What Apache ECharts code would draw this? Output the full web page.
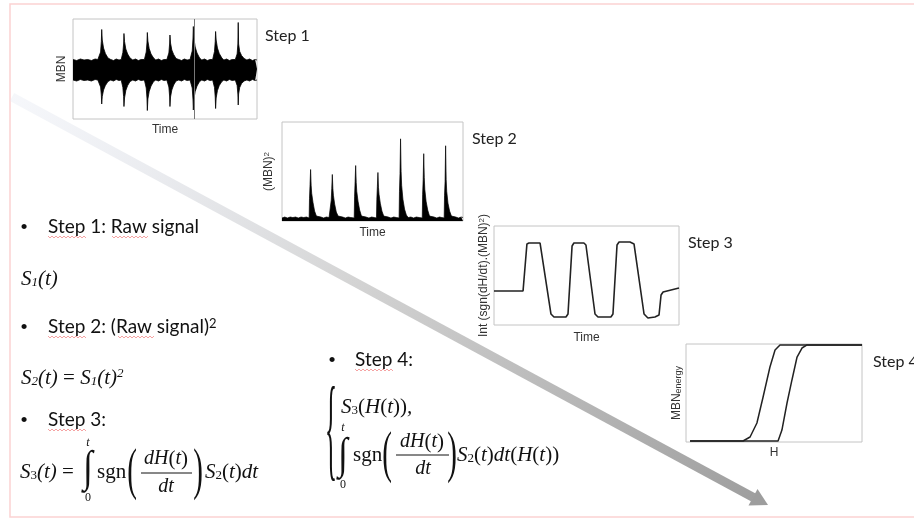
<!DOCTYPE html>
<html><head><meta charset="utf-8">
<script src="https://cdn.jsdelivr.net/npm/echarts@6/dist/echarts.min.js"></script>
<style>html,body{margin:0;padding:0;background:#fff}#c{width:914px;height:519px}</style>
</head><body><div id="c"></div><script>
// ---------- data ----------
const stepTitles = ['Step 1', 'Step 2', 'Step 3', 'Step 4'];
const xNames = ['Time', 'Time', 'Time', 'H'];
const yNames = ['MBN', '(MBN){sup|2}', 'Int (sgn(dH/dt).(MBN){sup|2})', 'MBN{sub|energy}'];

// Step 1: raw MBN signal envelope (upper / lower), time 0..100
const step1Upper = [[0,0.19],[2,0.17],[4,0.2],[6,0.18],[8,0.19],[10,0.17],[12,0.2],[13.5,0.19],
 [14.2,0.21],[15.0,0.34],[15.4,0.55],[15.6,0.79],[15.9,0.58],[16.6,0.42],[17.6,0.31],[19,0.22],
 [20.5,0.19],[22,0.17],[23.5,0.2],[25,0.18],[26.2,0.19],
 [26.4,0.21],[27.1,0.33],[27.5,0.5],[27.7,0.71],[28.0,0.55],[28.7,0.4],[29.7,0.3],[31,0.22],
 [32.5,0.18],[34,0.2],[35.5,0.17],[37,0.19],[38.8,0.19],
 [39.1,0.21],[39.8,0.34],[40.2,0.52],[40.4,0.73],[40.7,0.56],[41.4,0.41],[42.4,0.3],[43.8,0.22],
 [45,0.18],[46.5,0.2],[48,0.17],[49.5,0.19],[51,0.19],
 [51.4,0.21],[52.1,0.32],[52.5,0.5],[52.7,0.68],[53.0,0.52],[53.7,0.38],[54.7,0.29],[56,0.21],
 [57.5,0.19],[59,0.17],[60.5,0.2],[62,0.18],[63.6,0.19],
 [64.1,0.22],[64.8,0.36],[65.2,0.6],[65.4,0.85],[65.7,0.62],[66.4,0.44],[67.4,0.32],[68.8,0.22],
 [70,0.18],[71.5,0.2],[73,0.17],[74.5,0.19],[75.9,0.19],
 [76.2,0.21],[76.9,0.35],[77.3,0.55],[77.5,0.75],[77.8,0.58],[78.5,0.42],[79.5,0.31],[80.9,0.22],
 [82,0.18],[83.5,0.2],[85,0.17],[86.5,0.19],[88.2,0.19],
 [88.5,0.21],[89.2,0.3],[89.6,0.5],[89.8,0.93],[90.0,0.5],[90.6,0.35],[91.6,0.27],[93,0.21],
 [94.5,0.18],[96,0.2],[97.5,0.17],[99,0.19],[100,0.18]];
const step1Lower = [[0,-0.22],[2,-0.24],[4,-0.21],[6,-0.23],[8,-0.22],[10,-0.24],[12,-0.21],[13.5,-0.22],
 [14.2,-0.24],[15.0,-0.36],[15.4,-0.52],[15.6,-0.70],[15.9,-0.55],[16.6,-0.42],[17.6,-0.33],[19,-0.25],
 [20.5,-0.22],[22,-0.24],[23.5,-0.21],[25,-0.23],[26.2,-0.22],
 [26.4,-0.24],[27.1,-0.37],[27.5,-0.55],[27.7,-0.75],[28.0,-0.58],[28.7,-0.43],[29.7,-0.33],[31,-0.25],
 [32.5,-0.22],[34,-0.24],[35.5,-0.21],[37,-0.23],[38.8,-0.22],
 [39.1,-0.25],[39.8,-0.38],[40.2,-0.58],[40.4,-0.83],[40.7,-0.6],[41.4,-0.45],[42.4,-0.34],[43.8,-0.25],
 [45,-0.22],[46.5,-0.24],[48,-0.21],[49.5,-0.23],[51,-0.22],
 [51.4,-0.24],[52.1,-0.36],[52.5,-0.54],[52.7,-0.75],[53.0,-0.56],[53.7,-0.42],[54.7,-0.32],[56,-0.24],
 [57.5,-0.22],[59,-0.24],[60.5,-0.21],[62,-0.23],[63.6,-0.22],
 [64.1,-0.25],[64.8,-0.38],[65.2,-0.6],[65.4,-0.82],[65.7,-0.6],[66.4,-0.45],[67.4,-0.34],[68.8,-0.25],
 [70,-0.22],[71.5,-0.24],[73,-0.21],[74.5,-0.23],[75.9,-0.22],
 [76.2,-0.24],[76.9,-0.37],[77.3,-0.56],[77.5,-0.79],[77.8,-0.58],[78.5,-0.43],[79.5,-0.33],[80.9,-0.25],
 [82,-0.22],[83.5,-0.24],[85,-0.21],[86.5,-0.23],[88.2,-0.22],
 [88.5,-0.24],[89.2,-0.33],[89.6,-0.5],[89.8,-0.72],[90.0,-0.5],[90.6,-0.37],[91.6,-0.29],[93,-0.24],
 [94.5,-0.22],[96,-0.24],[97.5,-0.21],[99,-0.23],[100,-0.22]];
const step1Marker = [65.8];

// Step 2: squared signal
const step2Signal = [[0,3],[1.5,4],[3,3],[4.5,4],[6,3.5],[7.5,4],[9,3],[10.5,4],[12,3.5],[13.5,4],
 [15.0,3],[15.2,23],[15.5,37],[15.8,52],[16.1,36],[16.4,28],[17.1,19],[18.0,10],[19.0,5],[20.0,3.5],
 [21.5,4],[23,3],[24.5,4],[26,3.5],
 [27.0,3],[27.2,21],[27.5,33],[27.8,47],[28.1,33],[28.4,26],[29.1,17],[30.0,9],[31.0,5],[32.0,3.5],
 [33.5,4],[35,3],[36.5,4],[38,3.5],
 [39.9,3],[40.1,25],[40.4,40],[40.7,56],[41.0,39],[41.3,30],[42.0,20],[42.9,11],[43.9,5],[44.9,3.5],
 [46.4,4],[48,3],[49.5,4],[51,3.5],
 [52.2,3],[52.4,22],[52.7,35],[53.0,49],[53.3,34],[53.6,27],[54.3,18],[55.2,10],[56.2,5],[57.2,3.5],
 [58.7,4],[60.2,3],[61.7,4],[63.2,3.5],
 [64.7,3],[64.9,30],[65.2,48],[65.5,83],[65.8,50],[66.1,36],[66.8,22],[67.7,12],[68.7,6],[69.7,3.5],
 [71.2,4],[72.7,3],[74.2,4],[75.8,3.5],
 [77.5,3],[77.7,27],[78.0,42],[78.3,68],[78.6,44],[78.9,32],[79.6,20],[80.5,11],[81.5,5],[82.5,3.5],
 [84,4],[85.5,3],[87,4],[88.3,3.5],
 [89.6,3],[89.8,26],[90.1,40],[90.4,76],[90.7,42],[91.0,30],[91.7,18],[92.6,10],[93.6,5],[94.6,3.5],
 [96,4],[97.5,3],[99,4],[100,3.5]];

// Step 3: integrated signal
const step3Curve = [[0,34.3],[15.7,34.3],[17.8,81.8],[18.9,82.8],[24.9,82.8],[25.9,80.8],[30.8,11.1],[32.4,8.1],
 [38.9,8.1],[40,11.1],[42.2,79.8],[43.2,82.8],[48.6,82.8],[49.7,80.8],[54.6,11.1],[56.2,8.1],[63.2,8.1],
 [64.3,11.1],[66.5,80.8],[67.6,83.8],[73.5,83.8],[75.7,81.8],[81.1,11.1],[83.2,7.1],[87,8.1],[89.2,10.1],
 [90.3,30.3],[91.4,33.3],[100,37.4]];

// Step 4: MBN energy vs H (two branches)
const step4Left = [[2.3,1],[32.4,1],[36.4,5.1],[40.3,19.4],[43.8,45.9],[47.7,76.5],[50.6,93.9],[53.4,99],[100,99]];
const step4Right = [[2.3,1],[52.3,1],[54.5,12.2],[57.4,39.8],[60.2,63.3],[63.1,86.7],[65.9,95.9],[68.8,99],[100,99]];

// ---------- layout ----------
const grids = [
  {left:73, top:19, width:184, height:100},
  {left:282, top:122, width:181, height:99},
  {left:494, top:226, width:185, height:99},
  {left:686, top:344, width:176, height:98}
];
const yRanges = [[-1,1],[0,100],[0,100],[0,100]];
const xGaps = [5, 6, 7, 5];
const yGaps = [5, 7, 4, 3];
const stepPos = [[265,36],[472,139],[688,243],[873,362]];

const chart = echarts.init(document.getElementById('c'), null, {renderer:'canvas'});
const nameStyle = {fontFamily:'Liberation Sans', fontSize:12, color:'#333',
  rich:{sup:{fontSize:8, verticalAlign:'top', fontFamily:'Liberation Sans', color:'#333'},
        sub:{fontSize:9, verticalAlign:'bottom', fontFamily:'Liberation Sans', color:'#333'}}};

const option = {
  animation:false,
  backgroundColor:'#fff',
  grid: grids.map(g => Object.assign({show:true, borderColor:'#c4c4c4', borderWidth:1, backgroundColor:'transparent'}, g)),
  xAxis: grids.map((g,i)=>({gridIndex:i, type:'value', min:0, max:100,
    axisLine:{show:false}, axisTick:{show:false}, axisLabel:{show:false}, splitLine:{show:false},
    name:xNames[i], nameLocation:'middle', nameGap:xGaps[i], nameTextStyle:Object.assign({verticalAlign:'top'}, nameStyle)})),
  yAxis: grids.map((g,i)=>({gridIndex:i, type:'value', min:yRanges[i][0], max:yRanges[i][1],
    axisLine:{show:false}, axisTick:{show:false}, axisLabel:{show:false}, splitLine:{show:false},
    name:yNames[i], nameLocation:'middle', nameRotate:90, nameGap:yGaps[i], nameTextStyle:Object.assign({verticalAlign:'bottom'}, nameStyle)})),
  series: [
    {type:'line', xAxisIndex:0, yAxisIndex:0, data:step1Upper, showSymbol:false, lineStyle:{color:'#000', width:0.8},
      areaStyle:{color:'#000', opacity:1},
      markLine:{silent:true, symbol:'none', label:{show:false}, lineStyle:{color:'#777', width:1, type:'solid'},
        data: step1Marker.map(v=>({xAxis:v}))}},
    {type:'line', xAxisIndex:0, yAxisIndex:0, data:step1Lower, showSymbol:false, lineStyle:{color:'#000', width:0.8},
      areaStyle:{color:'#000', opacity:1}},
    {type:'line', xAxisIndex:1, yAxisIndex:1, data:step2Signal, showSymbol:false, lineStyle:{color:'#000', width:0.7},
      areaStyle:{color:'#000', opacity:1}},
    {type:'line', xAxisIndex:2, yAxisIndex:2, data:step3Curve, showSymbol:false, lineStyle:{color:'#222', width:1.6}},
    {type:'line', xAxisIndex:3, yAxisIndex:3, data:step4Left, showSymbol:false, lineStyle:{color:'#222', width:1.5}},
    {type:'line', xAxisIndex:3, yAxisIndex:3, data:step4Right, showSymbol:false, lineStyle:{color:'#222', width:1.5}}
  ],
  graphic: []
};

// ---------- decorations & text ----------
const G = option.graphic;
const SANS = 'Lato';
const SERIF = 'Liberation Serif';
function T(x, y, text, st, extra){
  return Object.assign({type:'text', x:x, y:y, z:10, style:Object.assign({text:text, fill:'#111', fontFamily:SANS, fontSize:19,
    align:'left', verticalAlign:'middle'}, st||{})}, extra||{});
}
const mathRich = {
  s:{fontFamily:SERIF, fontSize:13, fontStyle:'italic', verticalAlign:'bottom', fill:'#111'},
  r:{fontFamily:SERIF, fontSize:13, fontStyle:'normal', verticalAlign:'bottom', fill:'#111'},
  p:{fontFamily:SERIF, fontSize:13, fontStyle:'italic', verticalAlign:'top', fill:'#111'},
  n:{fontFamily:SERIF, fontSize:21, fontStyle:'normal', fill:'#111'}
};
function M(x, y, text, size, align){
  return T(x, y, text, {fontFamily:SERIF, fontStyle:'italic', fontSize:size||21, rich:mathRich, align:align||'left'});
}
function B(x, y){ return T(x, y, '•', {fontFamily:'Liberation Sans', fontSize:19, align:'center'}); }
function squiggle(x1, x2, y){
  const pts=[]; let k=0;
  for(let x=x1; x<=x2; x+=2, k++) pts.push([x, y + (k%2 ? 1 : -1)]);
  return {type:'polyline', z:9, shape:{points:pts}, style:{stroke:'#f28c8c', lineWidth:0.8, fill:null}};
}

// page border
G.push({type:'rect', z:1, shape:{x:10, y:4, width:930, height:513}, style:{fill:null, stroke:'#fcd2d2', lineWidth:1.5}});

// arrow
G.push({type:'line', z:2, shape:{x1:12, y1:97, x2:753.5, y2:497.5},
  style:{lineWidth:9, stroke:new echarts.graphic.LinearGradient(12,97,767,505,[
    {offset:0, color:'rgba(228,232,242,0.35)'},{offset:0.45, color:'#d4d4d4'},{offset:1, color:'#9d9d9d'}], true)}});
G.push({type:'polygon', z:2, shape:{points:[[768,505],[748.5,505.5],[757.5,489]]}, style:{fill:'#9d9d9d'}});

// step titles
stepTitles.forEach((t,i)=>G.push(T(stepPos[i][0], stepPos[i][1], t, {fontSize:16, fill:'#222'})));

// left column
G.push(B(24, 228));
G.push(T(48, 227, 'Step 1: Raw signal'));
G.push(M(21, 279, 'S{s|1}(t)'));
G.push(B(24, 328));
G.push(T(48, 327, 'Step 2: (Raw signal){sp|2}', {rich:{sp:{fontFamily:SANS, fontSize:13, verticalAlign:'top', fill:'#111'}}}));
G.push(M(21, 378, 'S{s|2}(t){n| = }S{s|1}(t){p|2}'));
G.push(B(24, 421));
G.push(T(48, 420, 'Step 3:'));

// S3 formula (left)
G.push(M(20, 472, 'S{r|3}(t){n| = }'));
G.push(T(88, 469, '∫', {fontFamily:SERIF, fontSize:44, align:'center'}, {scaleX:0.8}));
G.push(M(88, 443, 't', 12, 'center'));
G.push(T(88, 498, '0', {fontFamily:SERIF, fontSize:12, align:'center'}));
G.push(T(97, 472, 'sgn', {fontFamily:SERIF, fontSize:21}));
G.push(T(132, 473, '(', {fontFamily:SERIF, fontSize:58, align:'center'}, {scaleX:0.5}));
G.push(M(166, 459, 'dH{n|(}t{n|)}', 20, 'center'));
G.push({type:'line', z:10, shape:{x1:141, y1:473, x2:192, y2:473}, style:{stroke:'#111', lineWidth:1}});
G.push(M(166, 487, 'dt', 20, 'center'));
G.push(T(198, 473, ')', {fontFamily:SERIF, fontSize:58, align:'center'}, {scaleX:0.5}));
G.push(M(205, 472, 'S{r|2}{n|(}t{n|)}dt'));

// Step 4 text
G.push(B(332, 361));
G.push(T(355, 360, 'Step 4:'));
G.push(T(331, 436, '{', {fontFamily:SERIF, fontSize:114, align:'center'}, {scaleX:0.22}));
G.push(M(341, 407, 'S{r|3}{n|(}H{n|(}t{n|))},'));
G.push(T(343, 456, '∫', {fontFamily:SERIF, fontSize:44, align:'center'}, {scaleX:0.8}));
G.push(M(343, 428, 't', 12, 'center'));
G.push(T(343, 485, '0', {fontFamily:SERIF, fontSize:12, align:'center'}));
G.push(T(353, 455, 'sgn', {fontFamily:SERIF, fontSize:21}));
G.push(T(387, 456, '(', {fontFamily:SERIF, fontSize:58, align:'center'}, {scaleX:0.5}));
G.push(M(422, 442, 'dH{n|(}t{n|)}', 20, 'center'));
G.push({type:'line', z:10, shape:{x1:396, y1:455, x2:449, y2:455}, style:{stroke:'#111', lineWidth:1}});
G.push(M(423, 469, 'dt', 20, 'center'));
G.push(T(452, 456, ')', {fontFamily:SERIF, fontSize:58, align:'center'}, {scaleX:0.5}));
G.push(M(457, 455, 'S{r|2}{n|(}t{n|)}dt{n|(}H{n|(}t{n|))}'));

// spell-check squiggles
G.push(squiggle(48, 87, 237));
G.push(squiggle(112, 148, 237));
G.push(squiggle(48, 87, 337));
G.push(squiggle(118, 154, 337));
G.push(squiggle(48, 87, 430));
G.push(squiggle(355, 393, 370));

chart.setOption(option);
</script></body></html>
